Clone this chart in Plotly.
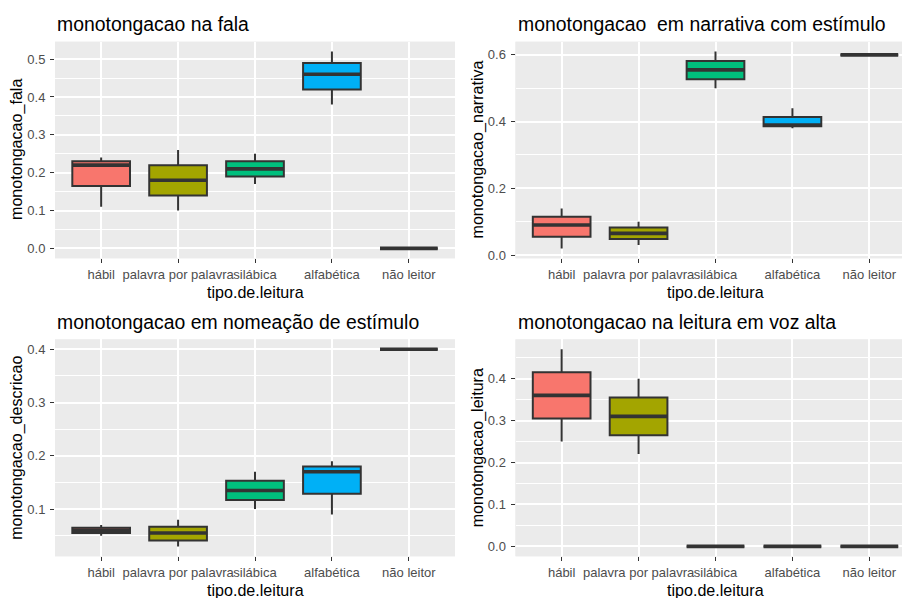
import plotly.graph_objects as go

W, H = 902, 598

categories = ["hábil", "palavra por palavra", "silábica", "alfabética", "não leitor"]
fill_colors = ["#F8766D", "#A3A500", "#00BF7D", "#00B0F6", "#E76BF3"]

# Five-number summaries per reading type: lower whisker, q1, median, q3, upper whisker
fala_low = [0.11, 0.10, 0.17, 0.38, 0.0]
fala_q1 = [0.165, 0.14, 0.19, 0.42, 0.0]
fala_med = [0.22, 0.18, 0.21, 0.46, 0.0]
fala_q3 = [0.23, 0.22, 0.23, 0.49, 0.0]
fala_high = [0.24, 0.26, 0.25, 0.52, 0.0]

narr_low = [0.02, 0.03, 0.50, 0.38, 0.60]
narr_q1 = [0.055, 0.048, 0.527, 0.386, 0.60]
narr_med = [0.09, 0.065, 0.555, 0.39, 0.60]
narr_q3 = [0.115, 0.083, 0.582, 0.414, 0.60]
narr_high = [0.14, 0.10, 0.61, 0.44, 0.60]

desc_low = [0.05, 0.03, 0.10, 0.09, 0.40]
desc_q1 = [0.055, 0.041, 0.117, 0.129, 0.40]
desc_med = [0.06, 0.055, 0.135, 0.17, 0.40]
desc_q3 = [0.065, 0.067, 0.153, 0.18, 0.40]
desc_high = [0.07, 0.08, 0.17, 0.19, 0.40]

leit_low = [0.25, 0.22, 0.0, 0.0, 0.0]
leit_q1 = [0.305, 0.265, 0.0, 0.0, 0.0]
leit_med = [0.36, 0.31, 0.0, 0.0, 0.0]
leit_q3 = [0.415, 0.355, 0.0, 0.0, 0.0]
leit_high = [0.47, 0.40, 0.0, 0.0, 0.0]

panels = [
    dict(title="monotongacao na fala", ytitle="monotongacao_fala", dtick=0.1,
         stats=(fala_low, fala_q1, fala_med, fala_q3, fala_high)),
    dict(title="monotongacao  em narrativa com estímulo", ytitle="monotongacao_narrativa", dtick=0.2,
         stats=(narr_low, narr_q1, narr_med, narr_q3, narr_high)),
    dict(title="monotongacao em nomeação de estímulo", ytitle="monotongacao_descricao", dtick=0.1,
         stats=(desc_low, desc_q1, desc_med, desc_q3, desc_high)),
    dict(title="monotongacao na leitura em voz alta", ytitle="monotongacao_leitura", dtick=0.1,
         stats=(leit_low, leit_q1, leit_med, leit_q3, leit_high)),
]

FONT = "Liberation Sans, Arial, sans-serif"
GRID_BG = "#EBEBEB"
EDGE = "#333333"
BOX_W = 0.75

# panel rectangles in pixels: left, right, top, bottom
left_x = (55, 455)
right_x = (515.5, 902)
top_y = (42, 260)
bot_y = (341.7, 560)
rects = [(left_x, top_y), (right_x, top_y), (left_x, bot_y), (right_x, bot_y)]
step = (left_x[1] - left_x[0]) / 5.2  # pixels per category

fig = go.Figure()
annotations = []

for p, (panel, ((x0, x1), (y0, y1))) in enumerate(zip(panels, rects)):
    n = p + 1
    xa = "x" if n == 1 else f"x{n}"
    ya = "y" if n == 1 else f"y{n}"
    low, q1, med, q3, high = panel["stats"]

    for i, cat in enumerate(categories):
        fig.add_trace(go.Box(
            x=[i], q1=[q1[i]], median=[med[i]], q3=[q3[i]],
            lowerfence=[low[i]], upperfence=[high[i]],
            width=BOX_W, whiskerwidth=0, boxpoints=False,
            fillcolor=fill_colors[i], line=dict(color=EDGE, width=2),
            name=cat, showlegend=False, hoverinfo="skip",
            xaxis=xa, yaxis=ya,
        ))
    # heavier median bar, as in ggplot's boxplot
    for i in range(len(categories)):
        fig.add_trace(go.Scatter(
            x=[i - BOX_W / 2, i + BOX_W / 2], y=[med[i], med[i]],
            mode="lines", line=dict(color=EDGE, width=3.6),
            showlegend=False, hoverinfo="skip", xaxis=xa, yaxis=ya,
        ))

    lo = min(low)
    hi = max(high)
    pad = (hi - lo) * 0.05
    x_hi = -0.6 + (x1 - x0) / step

    axis_common = dict(
        showline=False, zeroline=False, ticks="outside", ticklen=4,
        tickwidth=1.4, tickcolor=EDGE,
        tickfont=dict(family=FONT, size=13, color="#4D4D4D"),
        gridcolor="white", gridwidth=2,
    )
    fig.layout[f"xaxis{'' if n == 1 else n}"] = dict(
        domain=[x0 / W, x1 / W], range=[-0.6, x_hi], anchor=ya,
        tickmode="array", tickvals=list(range(len(categories))), ticktext=categories,
        tickangle=0, ticklabelstandoff=0, **axis_common,
    )
    fig.layout[f"yaxis{'' if n == 1 else n}"] = dict(
        domain=[1 - y1 / H, 1 - y0 / H], range=[lo - pad, hi + pad], anchor=xa,
        tick0=0, dtick=panel["dtick"], tickformat=".1f", ticklabelstandoff=2,
        minor=dict(tick0=0, dtick=panel["dtick"] / 2, showgrid=True,
                   gridcolor="white", gridwidth=1, ticks=""),
        **axis_common,
    )

    # panel title
    annotations.append(dict(
        text=panel["title"], x=x0 / W, y=1 - (y0 - 18) / H, xref="paper", yref="paper",
        xanchor="left", yanchor="middle", showarrow=False,
        font=dict(family=FONT, size=19.4, color="black"),
    ))
    # x-axis title, centred on the full panel width
    xc = x0 + 2.6 * step
    annotations.append(dict(
        text="tipo.de.leitura", x=xc / W, y=1 - (y1 + 34) / H, xref="paper", yref="paper",
        xanchor="center", yanchor="middle", showarrow=False,
        font=dict(family=FONT, size=16.1, color="black"),
    ))
    # y-axis title
    annotations.append(dict(
        text=panel["ytitle"], x=(x0 - 38) / W, y=1 - ((y0 + y1) / 2) / H,
        xref="paper", yref="paper", xanchor="center", yanchor="middle",
        textangle=-90, showarrow=False,
        font=dict(family=FONT, size=16.1, color="black"),
    ))

# panel backgrounds
shapes = []
for (x0, x1), (y0, y1) in rects:
    shapes.append(dict(type="rect", xref="paper", yref="paper", layer="below",
                       x0=x0 / W, x1=x1 / W, y0=1 - y1 / H, y1=1 - y0 / H,
                       fillcolor=GRID_BG, line=dict(width=0)))

fig.update_layout(
    width=W, height=H, margin=dict(l=0, r=0, t=0, b=0),
    paper_bgcolor="white", plot_bgcolor=GRID_BG,
    boxmode="overlay", showlegend=False,
    annotations=annotations, shapes=shapes,
    font=dict(family=FONT),
)

fig.write_html("out.html", config={"displayModeBar": False})
